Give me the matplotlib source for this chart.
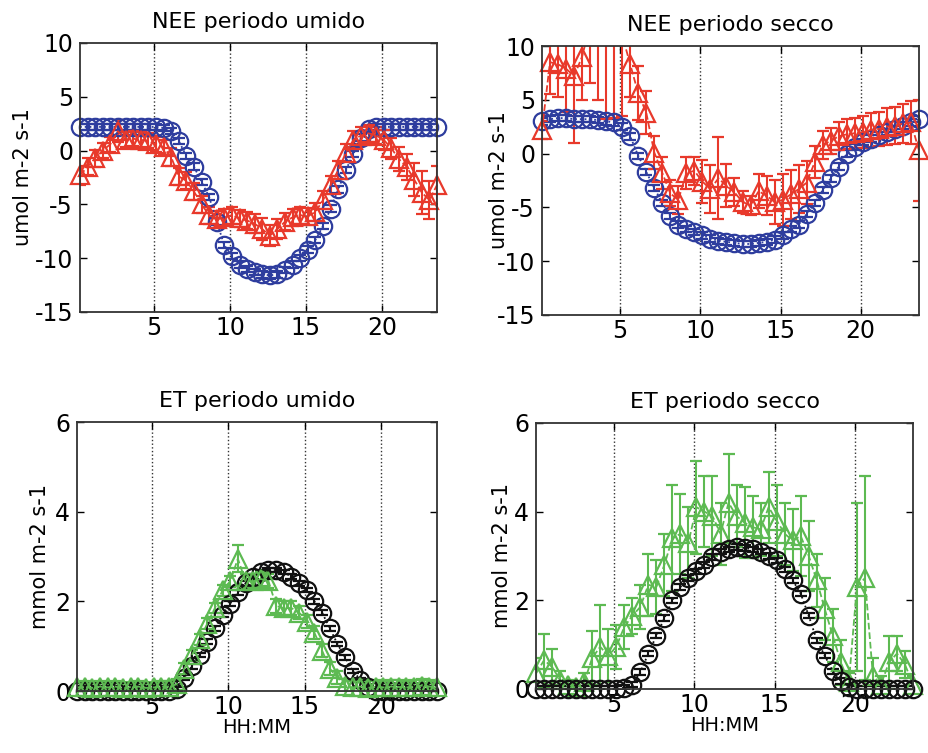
import numpy as np
from matplotlib import pyplot as plt
from matplotlib.patches import Rectangle

plt.rcParams['font.family'] = ['DejaVu Sans']
plt.rcParams['axes.unicode_minus'] = False

# half-hourly time axis (hours)
hours = 0.13 + 0.5 * np.arange(48)

# NEE periodo umido
nee_umido_mod = [2.2, 2.2, 2.2, 2.2, 2.2, 2.2, 2.2, 2.2, 2.2, 2.2, 2.2, 2.1,
                 1.8, 0.9, -0.5, -1.5, -2.9, -4.3, -6.6, -8.8, -9.8, -10.6, -11.0, -11.3,
                 -11.5, -11.6, -11.5, -11.1, -10.6, -10.0, -9.2, -8.3, -7.0, -5.4, -3.6, -1.8,
                 -0.3, 1.2, 2.0, 2.2, 2.2, 2.2, 2.2, 2.2, 2.2, 2.2, 2.2, 2.2]
nee_umido_mod_err = [0.3] * 48
nee_umido_obs = [-2.3, -1.5, -0.7, 0.0, 0.6, 1.8, 1.0, 1.1, 1.0, 0.9, 0.6, 0.3,
                 -0.6, -2.4, -2.8, -3.8, -5.0, -6.0, -6.4, -6.2, -6.0, -6.3, -6.5, -6.8,
                 -7.3, -7.9, -7.3, -6.6, -6.2, -6.0, -6.1, -5.7, -4.6, -3.2, -1.8, -0.2,
                 1.0, 1.4, 1.6, 1.4, 1.0, 0.2, -0.8, -1.5, -2.7, -3.9, -4.6, -3.2]
nee_umido_obs_err = [0.9, 0.8, 0.8, 0.7, 0.7, 1.0, 0.7, 0.7, 0.7, 0.7, 0.7, 0.7,
                     0.8, 0.8, 0.8, 0.8, 0.8, 0.8, 0.8, 0.8, 0.8, 0.8, 0.8, 0.9,
                     1.0, 1.0, 0.9, 0.8, 0.8, 0.8, 0.8, 0.8, 0.8, 0.8, 0.8, 0.8,
                     0.8, 0.8, 0.8, 0.8, 0.9, 1.0, 1.1, 1.2, 1.5, 2.0, 1.8, 1.8]

# NEE periodo secco
nee_secco_mod = [3.0, 3.2, 3.3, 3.3, 3.2, 3.2, 3.2, 3.1, 3.0, 2.9, 2.5, 1.6,
                 -0.2, -1.7, -3.2, -4.6, -5.8, -6.6, -7.0, -7.3, -7.6, -7.9, -8.1, -8.2,
                 -8.3, -8.4, -8.4, -8.3, -8.2, -8.0, -7.6, -7.0, -6.6, -5.6, -4.6, -3.4,
                 -2.3, -1.2, 0.0, 0.6, 1.1, 1.4, 1.7, 2.0, 2.3, 2.6, 2.9, 3.2]
nee_secco_mod_err = [0.3] * 48
nee_secco_obs = [2.2, 8.5, 8.3, 7.9, 7.2, 9.0, 12.0, 11.0, 11.5, 12.5, 11.0, 8.3,
                 5.6, 3.8, 0.1, -1.8, -3.7, -4.3, -1.8, -1.6, -2.6, -3.3, -2.3, -3.0,
                 -3.6, -4.5, -4.8, -3.5, -3.9, -4.5, -4.3, -3.8, -3.3, -2.7, -0.8, 0.8,
                 1.2, 1.6, 1.8, 1.9, 2.0, 2.2, 2.3, 2.5, 2.6, 2.8, 2.9, 0.3]
nee_secco_obs_err = [0.8, 3.0, 3.0, 4.0, 6.2, 4.0, 5.4, 6.0, 8.3, 9.2, 7.5, 3.0,
                     2.5, 2.0, 1.5, 1.5, 1.2, 1.3, 1.5, 1.3, 2.0, 2.2, 3.8, 2.0,
                     1.3, 1.0, 0.9, 1.6, 1.8, 2.0, 2.4, 2.3, 2.2, 2.0, 1.5, 1.3,
                     1.2, 1.3, 1.4, 1.4, 1.5, 1.6, 1.6, 1.7, 1.7, 1.8, 2.0, 4.7]

# ET periodo umido
et_umido_mod = [0.0] * 13 + [0.05, 0.3, 0.55, 0.8, 1.1, 1.4, 1.7, 1.95, 2.2, 2.4, 2.55,
                             2.65, 2.7, 2.7, 2.65, 2.55, 2.4, 2.25, 2.0, 1.75, 1.4, 1.05, 0.75,
                             0.45, 0.25, 0.08] + [0.0] * 9
et_umido_mod_err = [0.05] * 48
et_umido_obs = [0.08, 0.1, 0.07, 0.1, 0.08, 0.1, 0.06, 0.09, 0.1, 0.07, 0.08, 0.1,
                0.1, 0.15, 0.5, 0.8, 1.15, 1.5, 1.85, 2.25, 2.45, 2.95, 2.45, 2.45,
                2.5, 2.45, 1.9, 1.85, 1.85, 1.75, 1.55, 1.3, 0.9, 0.5, 0.3, 0.12,
                0.08, 0.1, 0.07, 0.1, 0.08, 0.1, 0.09, 0.08, 0.1, 0.12, 0.1, 0.08]
et_umido_obs_err = [0.12] * 21 + [0.3] + [0.15] * 26

# ET periodo secco
et_secco_mod = [0.0] * 11 + [0.03, 0.1, 0.38, 0.8, 1.2, 1.6, 2.0, 2.3, 2.5, 2.65, 2.8,
                             2.98, 3.1, 3.15, 3.2, 3.18, 3.15, 3.1, 3.0, 2.9, 2.7, 2.45, 2.15,
                             1.65, 1.1, 0.75, 0.4, 0.18, 0.05] + [0.0] * 8
et_secco_mod_err = [0.06] * 48
et_secco_obs = [0.35, 0.65, 0.5, 0.2, 0.1, 0.05, 0.15, 0.7, 0.95, 0.75, 0.95, 1.4,
                1.65, 1.85, 2.35, 2.3, 2.8, 3.4, 3.5, 3.3, 4.1, 4.0, 3.9, 3.5,
                4.2, 3.9, 3.75, 3.65, 3.6, 4.1, 3.8, 3.5, 3.35, 3.45, 3.0, 2.45,
                1.8, 1.2, 0.6, 0.15, 2.3, 2.5, 0.3, 0.1, 0.6, 0.8, 0.55, 0.1]
et_secco_obs_err = [0.35, 0.6, 0.4, 0.2, 0.1, 0.1, 0.2, 0.6, 0.95, 0.6, 0.5, 0.5,
                    0.4, 0.5, 0.7, 0.6, 0.7, 1.2, 0.9, 0.8, 1.05, 0.8, 0.9, 0.7,
                    1.1, 0.7, 0.8, 0.7, 0.6, 0.8, 0.8, 0.7, 0.7, 0.9, 0.8, 0.6,
                    0.7, 0.6, 0.5, 0.2, 1.9, 2.3, 0.4, 0.2, 0.6, 0.4, 0.3, 0.2]

BLUE = '#2e3d9e'
RED = '#e8392b'
GREEN = '#5dba52'
BLACK = '#111111'


def series(ax, y, err, marker, ls, color, ms=12.5):
    eb = ax.errorbar(hours, y, yerr=err, fmt=marker, ls=ls, color=color, mfc='none',
                     ms=ms, mew=1.6, lw=1.3, elinewidth=1.5, capsize=4, capthick=1.5)
    # markers may poke out of the left/right/bottom edges, like in MATLAB
    clip = Rectangle((-0.05, -0.05), 1.1, 1.05, transform=ax.transAxes)
    eb[0].set_clip_path(clip)
    return eb


def style(ax, ylim, yticks, ylabel, ylab_x, title, xlabel=None):
    ax.set_xlim(hours[0], hours[-1])
    ax.set_ylim(*ylim)
    ax.set_xticks([5, 10, 15, 20])
    ax.set_yticks(yticks)
    ax.xaxis.grid(True, ls=':', color='#333333', lw=1.0)
    ax.tick_params(direction='in', top=True, right=True, length=5, width=1,
                   labelsize=17, pad=5)
    ax.tick_params(axis='x', pad=3)
    ax.set_ylabel(ylabel, fontsize=15)
    ax.yaxis.set_label_coords(ylab_x, 0.5)
    ax.set_title(title, fontsize=16, pad=11)
    if xlabel:
        ax.set_xlabel(xlabel, fontsize=14, labelpad=-1)
    for s in ax.spines.values():
        s.set_linewidth(1.3)
        s.set_color('#333333')


fig = plt.figure(figsize=(9.29, 7.53), dpi=100)
ax1 = fig.add_axes([0.0861, 0.5857, 0.3843, 0.3572])
ax2 = fig.add_axes([0.5834, 0.5817, 0.4058, 0.3572])
ax3 = fig.add_axes([0.0829, 0.0823, 0.3875, 0.3572])
ax4 = fig.add_axes([0.5770, 0.0850, 0.4058, 0.3533])

series(ax1, nee_umido_mod, nee_umido_mod_err, 'o', ':', BLUE)
series(ax1, nee_umido_obs, nee_umido_obs_err, '^', '--', RED)
style(ax1, (-15, 10), [-15, -10, -5, 0, 5, 10], 'umol m-2 s-1', -0.132, 'NEE periodo umido')

series(ax2, nee_secco_mod, nee_secco_mod_err, 'o', ':', BLUE)
series(ax2, nee_secco_obs, nee_secco_obs_err, '^', '--', RED)
style(ax2, (-15, 10), [-15, -10, -5, 0, 5, 10], 'umol m-2 s-1', -0.088, 'NEE periodo secco')

series(ax3, et_umido_mod, et_umido_mod_err, 'o', ':', BLACK)
series(ax3, et_umido_obs, et_umido_obs_err, '^', '--', GREEN)
style(ax3, (0, 6), [0, 2, 4, 6], 'mmol m-2 s-1', -0.075, 'ET periodo umido', 'HH:MM')

series(ax4, et_secco_obs, et_secco_obs_err, '^', '--', GREEN)
series(ax4, et_secco_mod, et_secco_mod_err, 'o', ':', BLACK)
style(ax4, (0, 6), [0, 2, 4, 6], 'mmol m-2 s-1', -0.064, 'ET periodo secco', 'HH:MM')

plt.savefig('out.png', dpi=100)
plt.close(fig)
